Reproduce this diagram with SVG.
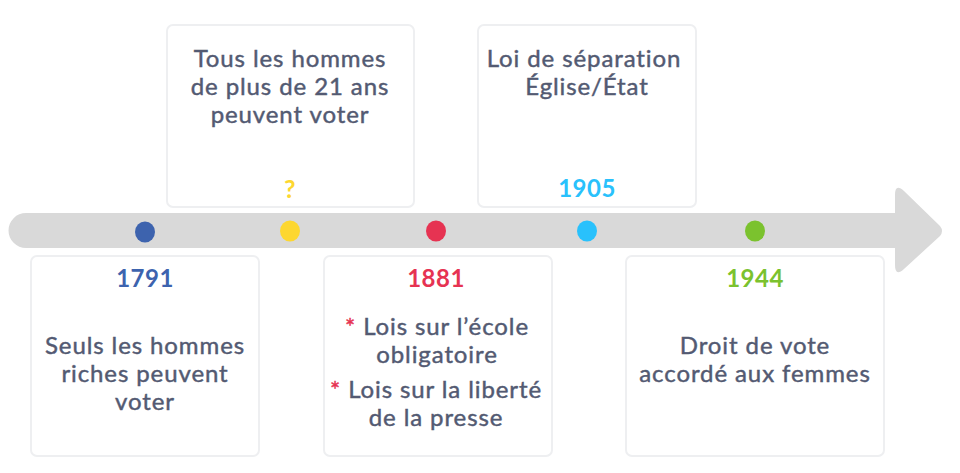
<svg xmlns="http://www.w3.org/2000/svg" width="960" height="473" viewBox="0 0 960 473">
<style>
.box{fill:#ffffff;stroke:#eeeff1;stroke-width:2}
.t{font-family:Lato,"Open Sans",sans-serif;font-size:24px;letter-spacing:0.9px;fill:#535a72;stroke:#535a72;stroke-width:0.45px;text-anchor:middle;font-weight:400}
.y{font-family:Lato,"Open Sans",sans-serif;font-size:24px;letter-spacing:0.5px;font-weight:700;text-anchor:middle}
</style>
<rect width="960" height="473" fill="#ffffff"/>
<g id="arrow">
<path d="M26,213 H895 V195 Q895,183 904,191 L940,226 Q944,231 940,236 L904,269 Q895,277 895,265 V248 H26 A17.5,17.5 0 0 1 26,213 Z" fill="#d9d9d9"/>
</g>
<g id="n1791">
<rect class="box" x="31" y="256" width="228" height="200" rx="6"/>
<text class="y" x="145" y="287" fill="#3d63ae">1791</text>
<text class="t" x="145" y="354">Seuls les hommes</text>
<text class="t" x="145" y="382">riches peuvent</text>
<text class="t" x="145" y="410">voter</text>
</g>
<g id="nq">
<rect class="box" x="167" y="25" width="247" height="182" rx="6"/>
<text class="t" x="290" y="67">Tous les hommes</text>
<text class="t" x="290" y="95">de plus de 21 ans</text>
<text class="t" x="290" y="123">peuvent voter</text>
<text class="y" x="290" y="198" fill="#fdd730" style="font-size:25px">?</text>
</g>
<g id="n1881">
<rect class="box" x="324" y="256" width="228" height="200" rx="6"/>
<text class="y" x="436" y="287" fill="#e63352">1881</text>
<text class="t" x="437" y="335"><tspan fill="#e63352" stroke="#e63352">*</tspan> Lois sur l’école</text>
<text class="t" x="437" y="363">obligatoire</text>
<text class="t" x="436" y="398"><tspan fill="#e63352" stroke="#e63352">*</tspan> Lois sur la liberté</text>
<text class="t" x="436" y="426">de la presse</text>
</g>
<g id="n1905">
<rect class="box" x="478" y="25" width="218" height="182" rx="6"/>
<text class="t" x="584" y="67">Loi de séparation</text>
<text class="t" x="587" y="95">Église/État</text>
<text class="y" x="587" y="197" fill="#29c1fc">1905</text>
</g>
<g id="n1944">
<rect class="box" x="626" y="256" width="258" height="200" rx="6"/>
<text class="y" x="755" y="287" fill="#7bc22e">1944</text>
<text class="t" x="755" y="354">Droit de vote</text>
<text class="t" x="755" y="382">accordé aux femmes</text>
</g>
<g id="dots">
<ellipse cx="145" cy="232" rx="10" ry="10.5" fill="#3d63ae"/>
<ellipse cx="290" cy="231" rx="10" ry="10.5" fill="#fdd730"/>
<ellipse cx="436" cy="231" rx="10" ry="10.5" fill="#e63352"/>
<ellipse cx="587" cy="231" rx="10" ry="10.5" fill="#29c1fc"/>
<ellipse cx="755" cy="231" rx="10" ry="10.5" fill="#7bc22e"/>
</g>
</svg>
